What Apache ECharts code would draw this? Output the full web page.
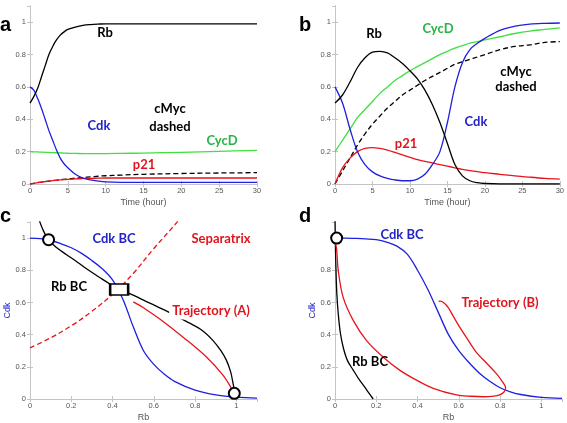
<!DOCTYPE html>
<html><head><meta charset="utf-8">
<script src="https://cdn.jsdelivr.net/npm/echarts@6/dist/echarts.min.js"></script>
<style>html,body{margin:0;padding:0;background:#fff}#c{width:567px;height:423px}</style>
</head><body><div id="c"></div>
<script>
// ---------- Panel a (time courses) ----------
const aTime = [0,0.5,1,1.5,2,2.5,3,3.5,4,4.5,5,6,7,8,9,10,12,15,20,25,30];
const aRb   = [0.5,0.54,0.59,0.66,0.73,0.8,0.85,0.89,0.92,0.94,0.955,0.97,0.98,0.985,0.988,0.99,0.99,0.99,0.99,0.99,0.99];
const aCdk  = [0.6,0.58,0.53,0.47,0.4,0.33,0.27,0.21,0.16,0.125,0.1,0.06,0.037,0.025,0.018,0.013,0.01,0.01,0.01,0.01,0.01];
const aCycD = [0.2,0.199,0.198,0.197,0.196,0.195,0.194,0.193,0.192,0.191,0.19,0.189,0.188,0.188,0.188,0.188,0.189,0.191,0.196,0.202,0.208];
const aP21  = [0,0.004,0.008,0.012,0.015,0.018,0.021,0.023,0.025,0.027,0.029,0.032,0.034,0.035,0.036,0.037,0.037,0.037,0.037,0.037,0.037];
const aMyc  = [0,0.004,0.008,0.012,0.015,0.018,0.021,0.024,0.027,0.029,0.031,0.036,0.04,0.044,0.048,0.051,0.055,0.06,0.065,0.068,0.07];

// ---------- Panel b (time courses) ----------
const bTime = [0,1,2,3,4,5,6,7,8,9,10,11,12,13,14,15,16,17,18,19,20,22,24,26,28,30];
const bRb   = [0.5,0.55,0.63,0.72,0.78,0.815,0.82,0.81,0.78,0.745,0.7,0.65,0.58,0.49,0.38,0.25,0.12,0.05,0.02,0.008,0.003,0,0,0,0,0];
const bCdk  = [0.6,0.5,0.34,0.2,0.12,0.075,0.05,0.035,0.025,0.02,0.02,0.03,0.06,0.12,0.2,0.38,0.6,0.75,0.83,0.87,0.9,0.95,0.975,0.988,0.993,0.995];
const bCycD = [0.2,0.27,0.34,0.41,0.46,0.51,0.56,0.6,0.64,0.67,0.7,0.725,0.75,0.775,0.8,0.82,0.84,0.855,0.87,0.88,0.89,0.91,0.93,0.945,0.955,0.965];
const bMyc  = [0,0.08,0.16,0.24,0.31,0.37,0.42,0.47,0.51,0.55,0.58,0.61,0.64,0.665,0.69,0.715,0.74,0.755,0.77,0.785,0.8,0.83,0.85,0.86,0.875,0.88];
const bP21  = [0,0.1,0.16,0.2,0.22,0.225,0.22,0.21,0.195,0.18,0.165,0.15,0.14,0.13,0.12,0.11,0.1,0.09,0.083,0.077,0.07,0.06,0.05,0.042,0.035,0.03];

// ---------- Panel c (phase plane) ----------
const cCdkBCRb  = [0,0.05,0.1,0.15,0.2,0.25,0.3,0.35,0.4,0.45,0.5,0.55,0.6,0.65,0.7,0.8,0.9,1.0,1.1];
const cCdkBCCdk = [1.0,0.997,0.985,0.965,0.94,0.905,0.86,0.81,0.74,0.62,0.45,0.3,0.215,0.155,0.11,0.055,0.025,0.012,0.005];
const cRbBCRb   = [0.04,0.06,0.089,0.13,0.177,0.23,0.29,0.35,0.403,0.432,0.476,0.55,0.653,0.766,0.83,0.887,0.925,0.952,0.972,0.984,0.992];
const cRbBCCdk  = [1.13,1.06,0.99,0.94,0.897,0.85,0.795,0.745,0.702,0.68,0.66,0.615,0.552,0.476,0.43,0.363,0.3,0.24,0.17,0.097,0.035];
const cSepRb    = [0,0.1,0.2,0.3,0.4,0.5,0.6,0.7,0.75];
const cSepCdk   = [0.318,0.38,0.455,0.545,0.65,0.78,0.935,1.08,1.16];
const cTrajRb   = [0.5,0.52,0.548,0.629,0.742,0.855,0.935,0.976];
const cTrajCdk  = [0.604,0.59,0.569,0.497,0.384,0.261,0.148,0.066];
const cSteadyRb = [0.09,0.99];
const cSteadyCdk= [0.99,0.035];
const cSaddleRb = [0.432];
const cSaddleCdk= [0.68];

// ---------- Panel d (phase plane) ----------
const dCdkBCRb  = [0.008,0.05,0.1,0.15,0.2,0.25,0.3,0.35,0.4,0.45,0.5,0.55,0.6,0.65,0.7,0.75,0.8,0.85,0.9,1.0,1.1];
const dCdkBCCdk = [1.0,1.0,0.998,0.995,0.99,0.975,0.95,0.9,0.8,0.68,0.54,0.4,0.3,0.225,0.16,0.11,0.07,0.045,0.028,0.01,0.004];
const dRbBCRb   = [0,0.002,0.005,0.009,0.016,0.026,0.04,0.06,0.089,0.115,0.137,0.16,0.185];
const dRbBCCdk  = [1.12,0.95,0.79,0.65,0.527,0.41,0.32,0.24,0.178,0.125,0.086,0.045,0];
const dTrajRb   = [0.002,0.008,0.016,0.04,0.089,0.153,0.234,0.315,0.395,0.476,0.589,0.66,0.718,0.77,0.798,0.818,0.827,0.81,0.782,0.735,0.685,0.645,0.605,0.575,0.548,0.527,0.512,0.502];
const dTrajCdk  = [0.97,0.928,0.795,0.63,0.487,0.363,0.26,0.178,0.117,0.066,0.025,0.017,0.014,0.018,0.026,0.042,0.068,0.11,0.158,0.222,0.29,0.366,0.445,0.51,0.57,0.598,0.608,0.606];
const dSteadyRb = [0.008];
const dSteadyCdk= [1.0];

// ---------- tick settings ----------
const timeTicks = {min:0, max:30, interval:5};
const unitTicks = {min:0, max:1.1, interval:0.2};

const BLACK='#000000', BLUE='#1f1fe0', GREEN='#3fe03f', RED='#e8141c';
const TXT_BLUE='#2323c8', TXT_GREEN='#28b548', TXT_RED='#e0141c';
const AX='#c4c4c4', LBL='#555555';
const FONT='"Liberation Sans", Arial, sans-serif';

const zip = (xs, ys) => xs.map((x,i)=>[x, ys[i]]);

function xAxes(g, t, name, hideMax){
  return [
    {type:'value', gridIndex:g, min:t.min, max:t.max, interval:t.interval, position:'bottom',
     axisLine:{show:true,lineStyle:{color:AX,width:1}},
     axisTick:{show:true,inside:true,length:3,lineStyle:{color:AX}},
     axisLabel:{color:LBL,fontSize:7.5,margin:3,fontFamily:FONT,showMaxLabel:!hideMax},
     splitLine:{show:false},
     name:name, nameLocation:'middle', nameGap:14,
     nameTextStyle:{color:LBL,fontSize:9,fontFamily:FONT}},
    {type:'value', gridIndex:g, min:t.min, max:t.max, interval:t.interval, position:'top',
     axisLine:{show:true,lineStyle:{color:AX,width:1}},
     axisTick:{show:true,inside:true,length:3,lineStyle:{color:AX}},
     axisLabel:{show:false}, splitLine:{show:false}}
  ];
}
function yAxes(g, t, name, hideOne){
  return [
    {type:'value', gridIndex:g, min:t.min, max:t.max, interval:t.interval, position:'left',
     axisLine:{show:true,lineStyle:{color:AX,width:1}},
     axisTick:{show:true,inside:true,length:3,lineStyle:{color:AX}},
     axisLabel:{color:LBL,fontSize:7.5,margin:4,fontFamily:FONT,showMaxLabel:false,
       formatter:(v)=> (hideOne && v===1) ? '' : String(v)},
     splitLine:{show:false},
     name:name, nameLocation:'middle', nameGap:15,
     nameTextStyle:{color:TXT_BLUE,fontSize:9,fontFamily:FONT}},
    {type:'value', gridIndex:g, min:t.min, max:t.max, interval:t.interval, position:'right',
     axisLine:{show:true,lineStyle:{color:AX,width:1}},
     axisTick:{show:true,inside:true,length:3,lineStyle:{color:AX}},
     axisLabel:{show:false}, splitLine:{show:false}}
  ];
}

function line(g, data, color, dashed){
  return {type:'line', xAxisIndex:2*g, yAxisIndex:2*g, data:data, showSymbol:false, symbol:'none',
    smooth:0.35, clip:true, animation:false,
    lineStyle:{color:color, width:1.3, type: dashed ? [5,3] : 'solid'}};
}
function marks(g, data, symbol, size){
  return {type:'scatter', xAxisIndex:2*g, yAxisIndex:2*g, data:data, symbol:symbol, symbolSize:size,
    animation:false, z:5,
    itemStyle:{color:'#ffffff', borderColor:'#000000', borderWidth:2, opacity:1}};
}

function label(text, x, y, color, bg){
  const st = {text:text, x:x, y:y, fill:color, font:'bold 13px Lato, "Liberation Sans", sans-serif',
              align:'center', verticalAlign:'middle'};
  if (bg) { st.backgroundColor='#ffffff'; st.padding=[2,3]; }
  return {type:'text', z:100, style:st};
}
function letter(text, x, y){
  return {type:'text', z:100, style:{text:text, x:x, y:y, fill:'#000',
    font:'bold 20px "Liberation Sans", Arial, sans-serif', align:'left', verticalAlign:'alphabetic'}};
}

const option = {
  backgroundColor:'#ffffff',
  animation:false,
  grid:[
    {left:30, top:6, width:227, height:178},
    {left:335, top:6, width:227, height:178},
    {left:30, top:222, width:227, height:178},
    {left:335, top:222, width:227, height:178}
  ],
  xAxis:[].concat(
    xAxes(0,timeTicks,'Time (hour)',false),
    xAxes(1,timeTicks,'Time (hour)',false),
    xAxes(2,unitTicks,'Rb',true),
    xAxes(3,unitTicks,'Rb',true)),
  yAxis:[].concat(
    yAxes(0,unitTicks,'',false),
    yAxes(1,unitTicks,'',false),
    yAxes(2,unitTicks,'Cdk',false),
    yAxes(3,unitTicks,'Cdk',true)),
  series:[
    line(0, zip(aTime,aCycD), GREEN),
    line(0, zip(aTime,aMyc), BLACK, true),
    line(0, zip(aTime,aP21), RED),
    line(0, zip(aTime,aCdk), BLUE),
    line(0, zip(aTime,aRb), BLACK),

    line(1, zip(bTime,bCycD), GREEN),
    line(1, zip(bTime,bMyc), BLACK, true),
    line(1, zip(bTime,bP21), RED),
    line(1, zip(bTime,bCdk), BLUE),
    line(1, zip(bTime,bRb), BLACK),

    line(2, zip(cSepRb,cSepCdk), RED, true),
    line(2, zip(cCdkBCRb,cCdkBCCdk), BLUE),
    line(2, zip(cRbBCRb,cRbBCCdk), BLACK),
    line(2, zip(cTrajRb,cTrajCdk), RED),
    marks(2, zip(cSteadyRb,cSteadyCdk), 'circle', 11),
    marks(2, zip(cSaddleRb,cSaddleCdk), 'rect', [18,11]),

    line(3, zip(dRbBCRb,dRbBCCdk), BLACK),
    line(3, zip(dCdkBCRb,dCdkBCCdk), BLUE),
    line(3, zip(dTrajRb,dTrajCdk), RED),
    marks(3, zip(dSteadyRb,dSteadyCdk), 'circle', 11)
  ],
  graphic:[
    letter('a',0,15), letter('b',299,15), letter('c',0,206), letter('d',299,206),
    label('Rb',105,33,BLACK), label('Cdk',99,126,TXT_BLUE),
    label('cMyc',170,109,BLACK), label('dashed',170,127,BLACK),
    label('CycD',222,141,TXT_GREEN), label('p21',144,165,TXT_RED),
    label('Rb',374,34,BLACK), label('CycD',438,29,TXT_GREEN),
    label('cMyc',516,72,BLACK), label('dashed',516,87,BLACK),
    label('Cdk',476,122,TXT_BLUE), label('p21',406,144,TXT_RED),
    label('Cdk BC',114,239,TXT_BLUE), label('Separatrix',221,239,TXT_RED),
    label('Rb BC',69,287,BLACK), label('Trajectory (A)',211,311,TXT_RED,true),
    label('Cdk BC',402,235,TXT_BLUE), label('Trajectory (B)',500,303,TXT_RED,true),
    label('Rb BC',370,362,BLACK)
  ]
};
const chart = echarts.init(document.getElementById('c'), null, {renderer:'canvas'});
chart.setOption(option);
</script></body></html>
